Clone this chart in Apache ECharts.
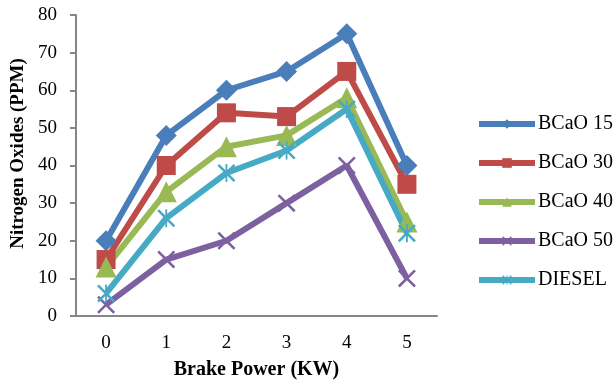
<!DOCTYPE html>
<html>
<head>
<meta charset="utf-8">
<script src="https://cdn.jsdelivr.net/npm/echarts@6/dist/echarts.min.js"></script>
<style>
  html, body { margin: 0; padding: 0; background: #fff; }
  #main { width: 616px; height: 383px; }
</style>
</head>
<body>
<div id="main"></div>
<script>
var categories = ['0', '1', '2', '3', '4', '5'];
var bcao15 = [20, 48, 60, 65, 75, 40];
var bcao30 = [15, 40, 54, 53, 65, 35];
var bcao40 = [13, 33, 45, 48, 58, 25];
var bcao50 = [3, 15, 20, 30, 40, 10];
var diesel = [6, 26, 38, 44, 55, 22];

var crossPath = 'path://M0,1 L1,0 L10,9 L9,10 Z M9,0 L10,1 L1,10 L0,9 Z';
var starPath = 'path://M0,1 L1,0 L10,9 L9,10 Z M9,0 L10,1 L1,10 L0,9 Z M4.5,0 L5.5,0 L5.5,10 L4.5,10 Z';

var font = '"Liberation Serif", "Times New Roman", serif';

function mkSeries(name, data, color, symbol, size) {
  return {
    name: name,
    type: 'line',
    data: data,
    symbol: symbol,
    symbolSize: size,
    lineStyle: { width: 6, color: color },
    itemStyle: { color: color },
    emphasis: { disabled: true }
  };
}

var chart = echarts.init(document.getElementById('main'));
chart.setOption({
  animation: false,
  textStyle: { fontFamily: font },
  grid: { left: 76, right: 179, top: 15, bottom: 67, outerBoundsMode: 'none', containLabel: false },
  legend: {
    orient: 'vertical',
    left: 471,
    top: 109,
    itemWidth: 56,
    itemHeight: 12,
    itemGap: 19,
    lineStyle: { width: 6 },
    textStyle: { fontFamily: font, fontSize: 20, lineHeight: 20, color: '#000', padding: [0, 0, 0, -2] },
    data: ['BCaO 15', 'BCaO 30', 'BCaO 40', 'BCaO 50', 'DIESEL']
  },
  xAxis: {
    type: 'category',
    data: categories,
    boundaryGap: true,
    name: 'Brake Power (KW)',
    nameLocation: 'middle',
    nameGap: 44,
    nameTextStyle: { fontFamily: font, fontSize: 20, fontWeight: 'bold', color: '#000' },
    axisLine: { lineStyle: { color: '#868686', width: 2 } },
    axisTick: { alignWithLabel: false, length: 6, lineStyle: { color: '#868686', width: 2 } },
    axisLabel: { fontFamily: font, fontSize: 19, color: '#000', margin: 18 }
  },
  yAxis: {
    type: 'value',
    min: 0,
    max: 80,
    interval: 10,
    name: 'Nitrogen Oxides (PPM)',
    nameLocation: 'middle',
    nameGap: 48,
    nameTextStyle: { fontFamily: font, fontSize: 19, fontWeight: 'bold', color: '#000', padding: [0, 0, 0, 24] },
    splitLine: { show: false },
    axisLine: { show: true, lineStyle: { color: '#868686', width: 2 } },
    axisTick: { show: true, length: 6, lineStyle: { color: '#868686', width: 2 } },
    axisLabel: { fontFamily: font, fontSize: 19, color: '#000', margin: 19 }
  },
  series: [
    mkSeries('BCaO 15', bcao15, '#4A7EBB', 'diamond', 21),
    mkSeries('BCaO 30', bcao30, '#BE4B48', 'rect', 19),
    mkSeries('BCaO 40', bcao40, '#98B954', 'triangle', 21),
    mkSeries('BCaO 50', bcao50, '#7D60A0', crossPath, 18),
    mkSeries('DIESEL', diesel, '#46AAC5', starPath, 18)
  ]
});
</script>
</body>
</html>
